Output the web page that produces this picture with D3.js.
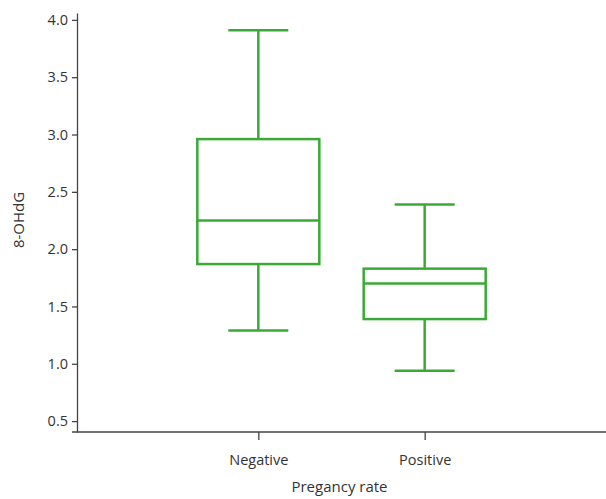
<!DOCTYPE html>
<html>
<head>
<meta charset="utf-8">
<script src="https://cdn.jsdelivr.net/npm/d3@7"></script>
<style>
  body { margin: 0; background: #fff; }
  text { font-family: "Open Sans", sans-serif; fill: #333; }
</style>
</head>
<body>
<script>
// groups and five-number summaries
var groups = ["Negative", "Positive"];
var whiskerLow = [1.29, 0.94];
var q1 = [1.87, 1.39];
var median = [2.25, 1.70];
var q3 = [2.96, 1.83];
var whiskerHigh = [3.91, 2.39];
var yTicks = [0.5, 1.0, 1.5, 2.0, 2.5, 3.0, 3.5, 4.0];

var width = 606, height = 499;
var plotLeft = 77, plotRight = 606, plotTop = 13, plotBottom = 432;

var svg = d3.select("body").append("svg")
    .attr("width", width)
    .attr("height", height);

var y = d3.scaleLinear().domain([0.405, 4.06]).range([plotBottom, plotTop]);
var x = d3.scalePoint().domain(groups).range([plotLeft, plotRight]).padding(1.09);
var boxW = 122, capW = 60;
var green = "#3aaa35";

// y axis
var yAxis = svg.append("g")
    .attr("transform", "translate(" + plotLeft + ",0)")
    .call(d3.axisLeft(y).tickValues(yTicks).tickFormat(d3.format(".1f")).tickSize(5).tickSizeOuter(0));
yAxis.selectAll("text").style("font-size", "14.5px").attr("dx", "-1");

// x axis
var xAxis = svg.append("g")
    .attr("transform", "translate(0," + plotBottom + ")")
    .call(d3.axisBottom(x).tickSize(8).tickSizeOuter(0));
xAxis.select(".domain").attr("d", "M" + (plotLeft - 5) + ",0H" + plotRight);
xAxis.selectAll("text").style("font-size", "14.5px").attr("dy", "1.55em");

svg.selectAll(".domain, .tick line").attr("stroke", "#444").attr("stroke-width", 1.3);

// axis titles
svg.append("text")
    .attr("x", (plotLeft + plotRight) / 2 - 2)
    .attr("y", 492)
    .attr("text-anchor", "middle")
    .style("font-size", "15px")
    .text("Pregancy rate");

svg.append("text")
    .attr("transform", "translate(24,220) rotate(-90)")
    .attr("text-anchor", "middle")
    .style("font-size", "15px")
    .text("8-OHdG");

// boxes
var box = svg.selectAll(".box")
    .data(groups)
    .enter()
    .append("g")
    .attr("class", "box")
    .attr("fill", "none")
    .attr("stroke", green)
    .attr("stroke-width", 2.5);

box.append("line")
    .attr("x1", function(d) { return x(d); })
    .attr("x2", function(d) { return x(d); })
    .attr("y1", function(d, i) { return y(whiskerHigh[i]); })
    .attr("y2", function(d, i) { return y(q3[i]); });

box.append("line")
    .attr("x1", function(d) { return x(d); })
    .attr("x2", function(d) { return x(d); })
    .attr("y1", function(d, i) { return y(q1[i]); })
    .attr("y2", function(d, i) { return y(whiskerLow[i]); });

box.append("line")
    .attr("x1", function(d) { return x(d) - capW / 2; })
    .attr("x2", function(d) { return x(d) + capW / 2; })
    .attr("y1", function(d, i) { return y(whiskerHigh[i]); })
    .attr("y2", function(d, i) { return y(whiskerHigh[i]); });

box.append("line")
    .attr("x1", function(d) { return x(d) - capW / 2; })
    .attr("x2", function(d) { return x(d) + capW / 2; })
    .attr("y1", function(d, i) { return y(whiskerLow[i]); })
    .attr("y2", function(d, i) { return y(whiskerLow[i]); });

box.append("rect")
    .attr("x", function(d) { return x(d) - boxW / 2; })
    .attr("width", boxW)
    .attr("y", function(d, i) { return y(q3[i]); })
    .attr("height", function(d, i) { return y(q1[i]) - y(q3[i]); });

box.append("line")
    .attr("x1", function(d) { return x(d) - boxW / 2; })
    .attr("x2", function(d) { return x(d) + boxW / 2; })
    .attr("y1", function(d, i) { return y(median[i]); })
    .attr("y2", function(d, i) { return y(median[i]); });
</script>
</body>
</html>
